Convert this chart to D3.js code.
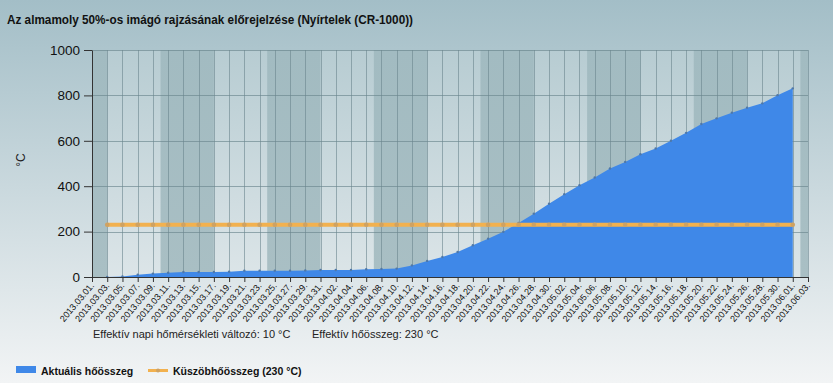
<!DOCTYPE html>
<html>
<head>
<meta charset="utf-8">
<script src="https://cdn.jsdelivr.net/npm/d3@7"></script>
<style>
	body { margin: 0; }
	svg { display: block; font-family: "Liberation Sans", Arial, sans-serif; }
</style>
</head>
<body>
<svg width="833" height="383"></svg>
<script>
// Tick labels, every second day
const tickLabels = [
	"2013.03.01.", "2013.03.03.", "2013.03.05.", "2013.03.07.", "2013.03.09.", "2013.03.11.",
	"2013.03.13.", "2013.03.15.", "2013.03.17.", "2013.03.19.", "2013.03.21.", "2013.03.23.",
	"2013.03.25.", "2013.03.27.", "2013.03.29.", "2013.03.31.", "2013.04.02.", "2013.04.04.",
	"2013.04.06.", "2013.04.08.", "2013.04.10.", "2013.04.12.", "2013.04.14.", "2013.04.16.",
	"2013.04.18.", "2013.04.20.", "2013.04.22.", "2013.04.24.", "2013.04.26.", "2013.04.28.",
	"2013.04.30.", "2013.05.02.", "2013.05.04.", "2013.05.06.", "2013.05.08.", "2013.05.10.",
	"2013.05.12.", "2013.05.14.", "2013.05.16.", "2013.05.18.", "2013.05.20.", "2013.05.22.",
	"2013.05.24.", "2013.05.26.", "2013.05.28.", "2013.05.30.", "2013.06.01.", "2013.06.03."
];

// Dates of the data points (2013.03.03. - 2013.06.01.)
const heatDates = tickLabels.slice(1, 47);

// Aktuális hőösszeg (°C)
const heatSum = [
	0, 2, 10, 15, 19, 22, 22, 22, 23, 28,
	28, 28, 28, 29, 31, 31, 31, 34, 35, 37,
	51, 71, 88, 110, 140, 169, 199, 238, 279, 323,
	365, 404, 438, 478, 507, 541, 566, 600, 635, 674,
	699, 724, 746, 765, 801, 831
];

// Küszöbhőösszeg (°C)
const thresholdSum = 230;

const yTicks = [0, 200, 400, 600, 800, 1000];

const margin = { top: 50, right: 25, bottom: 106, left: 92 },
	W = 833,
	H = 383,
	width = W - margin.left - margin.right,
	height = H - margin.top - margin.bottom;

const parse = d3.utcParse("%Y.%m.%d.");
const tickDates = tickLabels.map(parse);

const svg = d3.select("svg");
const defs = svg.append("defs");

function vGrad(id, c0, c1) {
	const g = defs.append("linearGradient").attr("id", id)
		.attr("x1", 0).attr("y1", 0).attr("x2", 0).attr("y2", 1);
	g.append("stop").attr("offset", "0%").attr("stop-color", c0);
	g.append("stop").attr("offset", "100%").attr("stop-color", c1);
}
vGrad("bg", "#a3bec7", "#f2f4f5");
vGrad("plotLight", "#b7ccd2", "#dce5e8");
vGrad("plotDark", "#a2bbc1", "#a9bfc4");

// Background
svg.append("rect").attr("width", W).attr("height", H).attr("fill", "url(#bg)");

const g = svg.append("g").attr("transform", `translate(${margin.left},${margin.top})`);

// Scales
const x = d3.scaleUtc()
	.domain([tickDates[0], tickDates[tickDates.length - 1]])
	.range([0, width]);

const y = d3.scaleLinear().domain([0, 1000]).range([height, 0]);

// Plot background with weekly bands (weeks start on Sunday)
g.append("rect").attr("width", width).attr("height", height).attr("fill", "url(#plotLight)");

const start = x.domain()[0], end = x.domain()[1];
const sundays = d3.utcSunday.range(d3.utcDay.offset(start, 1), end);
const edges = [start, ...sundays, end];
const bands = d3.pairs(edges).filter((d, i) => i % 2 === 0);

g.selectAll(".band")
	.data(bands)
	.join("rect")
	.attr("class", "band")
	.attr("x", (d) => x(d[0]))
	.attr("width", (d) => x(d[1]) - x(d[0]))
	.attr("y", 0)
	.attr("height", height)
	.attr("fill", "url(#plotDark)");

// Grid lines
g.append("g")
	.selectAll("line")
	.data(tickDates)
	.join("line")
	.attr("x1", (d) => Math.round(x(d)) + 0.5)
	.attr("x2", (d) => Math.round(x(d)) + 0.5)
	.attr("y1", 0)
	.attr("y2", height)
	.attr("stroke", "#6a858d")
	.attr("stroke-opacity", 0.6);

g.append("g")
	.selectAll("line")
	.data(yTicks.slice(1))
	.join("line")
	.attr("x1", 0)
	.attr("x2", width)
	.attr("y1", (d) => Math.round(y(d)) + 0.5)
	.attr("y2", (d) => Math.round(y(d)) + 0.5)
	.attr("stroke", "#6a858d")
	.attr("stroke-opacity", 0.65);

// Area
const heatData = heatDates.map((d, i) => ({ date: parse(d), value: heatSum[i] }));

const area = d3.area()
	.x((d) => x(d.date))
	.y0(y(0))
	.y1((d) => y(d.value));

g.append("path")
	.datum(heatData)
	.attr("d", area)
	.attr("fill", "#3f88e8");

g.append("g")
	.selectAll("circle")
	.data(heatData)
	.join("circle")
	.attr("cx", (d) => x(d.date))
	.attr("cy", (d) => y(d.value))
	.attr("r", 1.2)
	.attr("fill", "#4f78a8");

// Threshold line
const thresholdData = heatDates.map((d) => ({ date: parse(d), value: thresholdSum }));

const line = d3.line()
	.x((d) => x(d.date))
	.y((d) => y(d.value));

g.append("path")
	.datum(thresholdData)
	.attr("d", line)
	.attr("fill", "none")
	.attr("stroke", "#f2b14f")
	.attr("stroke-width", 4);

g.append("g")
	.selectAll("circle")
	.data(thresholdData)
	.join("circle")
	.attr("cx", (d) => x(d.date))
	.attr("cy", (d) => y(d.value))
	.attr("r", 2.3)
	.attr("fill", "#cfa262");

// Axes
const yAxis = g.append("g")
	.call(d3.axisLeft(y).tickValues(yTicks).tickFormat(d3.format("d"))
		.tickSize(8).tickPadding(4).tickSizeOuter(0));
yAxis.selectAll("text").attr("font-size", 13.5).attr("fill", "#111").attr("font-family", "Liberation Sans, Arial, sans-serif");
yAxis.selectAll("line, path").attr("stroke", "#333");

const xAxis = g.append("g")
	.attr("transform", `translate(0,${height})`)
	.call(d3.axisBottom(x).tickValues(tickDates).tickSize(5).tickSizeOuter(0)
		.tickFormat((d, i) => tickLabels[i]));
xAxis.selectAll("line, path").attr("stroke", "#333");
xAxis.selectAll("text")
	.attr("font-size", 9)
	.attr("fill", "#111")
	.attr("font-family", "Liberation Sans, Arial, sans-serif")
	.attr("text-anchor", "end")
	.attr("dy", null)
	.attr("y", 0)
	.attr("transform", "translate(2,9) rotate(-50)");

// Y axis title
svg.append("text")
	.attr("transform", "translate(25,160) rotate(-90)")
	.attr("text-anchor", "middle")
	.attr("font-size", 12)
	.attr("fill", "#222")
	.text("°C");

// Title
svg.append("text")
	.attr("x", 7)
	.attr("y", 24)
	.attr("font-size", 13.5)
	.attr("font-weight", "bold")
	.attr("fill", "#111")
	.attr("textLength", 406)
	.attr("lengthAdjust", "spacingAndGlyphs")
	.text("Az almamoly 50%-os imágó rajzásának előrejelzése (Nyírtelek (CR-1000))");

// Notes under the axis
svg.append("text")
	.attr("x", 93)
	.attr("y", 338)
	.attr("font-size", 11)
	.attr("fill", "#222")
	.text("Effektív napi hőmérsékleti változó: 10 °C");

svg.append("text")
	.attr("x", 312)
	.attr("y", 338)
	.attr("font-size", 11)
	.attr("fill", "#222")
	.text("Effektív hőösszeg: 230 °C");

// Legend
const legend = svg.append("g").attr("font-size", 10.5).attr("font-weight", "bold").attr("fill", "#111");

legend.append("rect")
	.attr("x", 16).attr("y", 366).attr("width", 20).attr("height", 7)
	.attr("fill", "#3f88e8");
legend.append("text").attr("x", 41).attr("y", 375).text("Aktuális hőösszeg");

legend.append("line")
	.attr("x1", 148).attr("x2", 168).attr("y1", 370.5).attr("y2", 370.5)
	.attr("stroke", "#f2b14f").attr("stroke-width", 3);
legend.append("circle").attr("cx", 158).attr("cy", 370.5).attr("r", 2).attr("fill", "#cfa262");
legend.append("text").attr("x", 173).attr("y", 375).text("Küszöbhőösszeg (230 °C)");
</script>
</body>
</html>
